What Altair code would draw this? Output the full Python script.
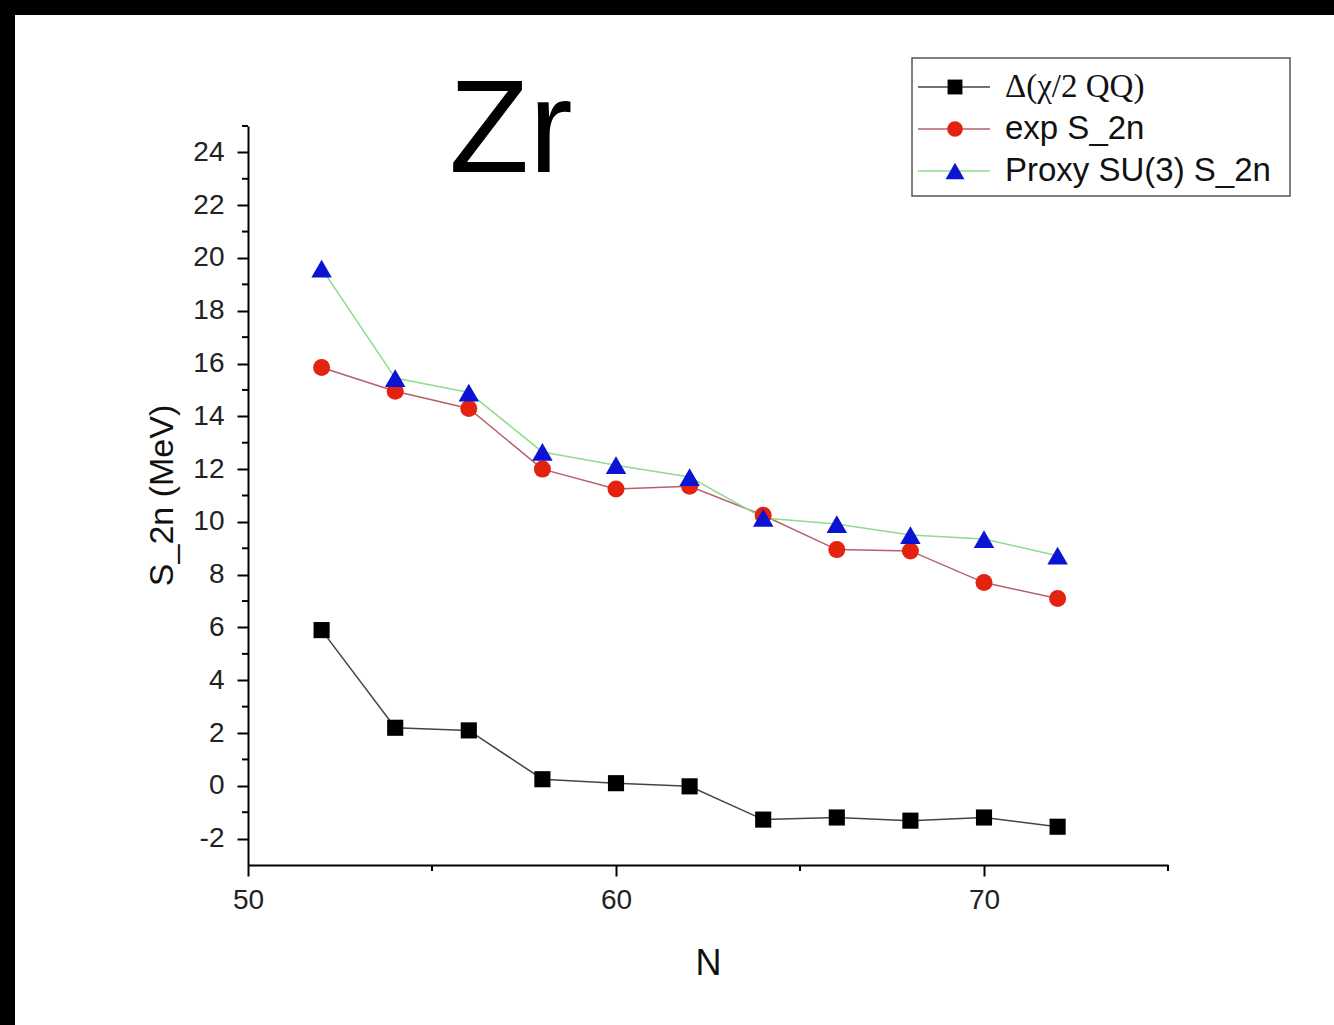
import altair as alt
import pandas as pd

# ---- data ----
N = [52, 54, 56, 58, 60, 62, 64, 66, 68, 70, 72]
delta_qq = [5.9, 2.2, 2.1, 0.25, 0.1, -0.02, -1.28, -1.2, -1.32, -1.2, -1.55]
exp_s2n = [15.85, 14.95, 14.3, 12.0, 11.25, 11.35, 10.25, 8.95, 8.9, 7.7, 7.1]
proxy_s2n = [19.6, 15.45, 14.9, 12.65, 12.15, 11.7, 10.15, 9.92, 9.5, 9.35, 8.72]

series_names = ["Δ(χ/2 QQ)", "exp S_2n", "Proxy SU(3) S_2n"]
series_values = [delta_qq, exp_s2n, proxy_s2n]
line_colors = ["#444444", "#b5606a", "#8fdc8f"]
marker_colors = ["#000000", "#e32310", "#0a14d2"]
marker_shapes = ["square", "circle", "triangle-up"]
marker_sizes = [260, 290, 420]
label_fonts = ["Liberation Serif", "Liberation Sans", "Liberation Sans"]

x_major = [50, 60, 70]
x_minor = [55, 65, 75]
y_major = [-2, 0, 2, 4, 6, 8, 10, 12, 14, 16, 18, 20, 22, 24]
y_minor = [-1, 1, 3, 5, 7, 9, 11, 13, 15, 17, 19, 21, 23, 25]

# ---- layout ----
W, H = 920, 739
PL, PT = 248, 126
PR, PB = 1334 - PL - W, 1025 - PT - H

xs = alt.Scale(domain=[50, 75], nice=False, zero=False)
ys = alt.Scale(domain=[-3, 25], nice=False, zero=False)

one = pd.DataFrame({"k": [0]})

x_axis = alt.Axis(
    values=x_major, labelExpr="'' + datum.value", title="N", titleFontSize=36,
    titleFont="Liberation Sans", titleFontWeight="normal",
    titleX=W / 2, titleY=109, titleBaseline="alphabetic", titleAlign="center",
    labelPadding=10, labelFlush=False)
y_axis = alt.Axis(
    values=y_major, labelExpr="'' + datum.value", title="S_2n (MeV)", titleFontSize=34,
    titleFont="Liberation Sans", titleFontWeight="normal",
    titleX=-76, titleY=369, titleBaseline="alphabetic", titleAlign="center",
    titleAngle=-90, labelPadding=13, labelFlush=False)

# black frame strips (top and left), the rest of the page is white
layers = [
    alt.Chart(one).mark_rect(fill="black").encode(
        x=alt.value(-PL), x2=alt.value(1334 - PL), y=alt.value(-PT), y2=alt.value(15 - PT)),
    alt.Chart(one).mark_rect(fill="black").encode(
        x=alt.value(-PL), x2=alt.value(15 - PL), y=alt.value(-PT), y2=alt.value(1025 - PT)),
]

for i, vals in enumerate(series_values):
    d = pd.DataFrame({"N": N, "value": vals})
    layers.append(alt.Chart(d).mark_line(strokeWidth=1.5, color=line_colors[i]).encode(
        x=alt.X("N:Q", scale=xs, axis=x_axis),
        y=alt.Y("value:Q", scale=ys, axis=y_axis),
    ))
for i, vals in enumerate(series_values):
    d = pd.DataFrame({"N": N, "value": vals})
    layers.append(alt.Chart(d).mark_point(
        filled=True, opacity=1, strokeWidth=0, shape=marker_shapes[i],
        fill=marker_colors[i], size=marker_sizes[i]).encode(
        x=alt.X("N:Q", scale=xs, axis=x_axis),
        y=alt.Y("value:Q", scale=ys, axis=y_axis),
    ))

layers.append(alt.Chart(pd.DataFrame({"value": y_minor})).mark_rule(color="black", strokeWidth=2).encode(
    y=alt.Y("value:Q", scale=ys, axis=y_axis), x=alt.value(-6), x2=alt.value(0)))
layers.append(alt.Chart(pd.DataFrame({"N": x_minor})).mark_rule(color="black", strokeWidth=2).encode(
    x=alt.X("N:Q", scale=xs, axis=x_axis), y=alt.value(H), y2=alt.value(H + 6)))

layers.append(alt.Chart(one).mark_text(
    text="Zr", font="Liberation Sans", fontSize=131, align="left", baseline="alphabetic",
    color="black").encode(x=alt.value(201), y=alt.value(46)))

# ---- hand-drawn legend ----
LX0, LX1, LY0, LY1 = 912 - PL, 1290 - PL, 58 - PT, 196 - PT
layers.append(alt.Chart(one).mark_rect(fill="white", stroke="#555555", strokeWidth=1.5).encode(
    x=alt.value(LX0), x2=alt.value(LX1), y=alt.value(LY0), y2=alt.value(LY1)))
row_y = [87 - PT, 129 - PT, 171 - PT]
for i, name in enumerate(series_names):
    yy = row_y[i]
    layers.append(alt.Chart(one).mark_rule(color=line_colors[i], strokeWidth=1.5).encode(
        x=alt.value(918 - PL), x2=alt.value(990 - PL), y=alt.value(yy)))
    layers.append(alt.Chart(one).mark_point(
        filled=True, opacity=1, strokeWidth=0, shape=marker_shapes[i],
        fill=marker_colors[i], size=marker_sizes[i] * 0.85).encode(
        x=alt.value(955 - PL), y=alt.value(yy)))
    layers.append(alt.Chart(one).mark_text(
        text=name, font=label_fonts[i], fontSize=33, align="left", baseline="middle",
        color="#111111").encode(x=alt.value(1005 - PL), y=alt.value(yy)))

chart = alt.layer(*layers).properties(
    width=W, height=H,
    autosize=alt.AutoSizeParams(type="none"),
    padding={"left": PL, "top": PT, "right": PR, "bottom": PB},
    background="white",
).configure_view(stroke=None).configure_axis(
    domainColor="black", domainWidth=2, tickColor="black", tickWidth=2, tickSize=11,
    labelFont="Liberation Sans", labelFontSize=28, labelColor="#222222", grid=False,
    titleColor="#111111",
)

chart.save("out.html", embed_options={"renderer": "svg", "actions": False})
